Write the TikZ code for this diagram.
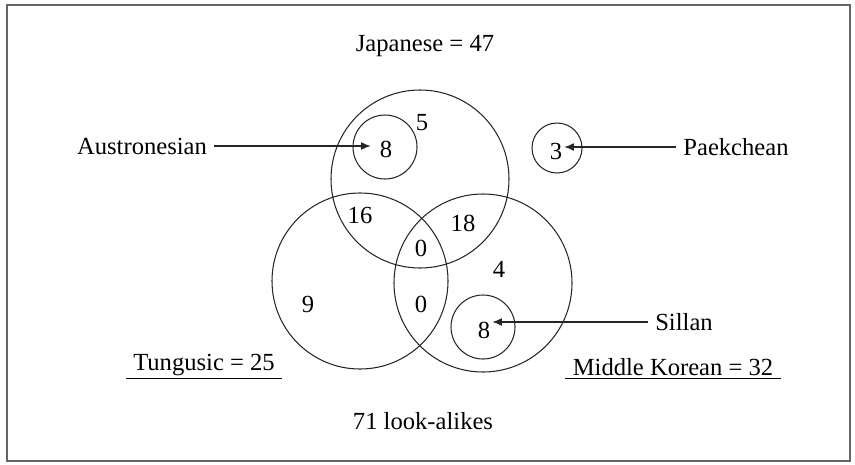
\documentclass[tikz,border=0pt]{standalone}
\usepackage{fontspec}
\setmainfont{Liberation Serif}
\usetikzlibrary{arrows,arrows.meta,positioning}

\begin{document}
\begin{tikzpicture}[
  x=0.02cm, y=-0.02cm,
  ring/.style={
    draw=black!85,
    line width=0.6pt
  },
  txt/.style={
    font=\fontsize{14}{16}\selectfont,
    inner sep=1pt
  },
  title/.style={
    txt,
    inner xsep=4pt,
    inner ysep=1.5pt
  },
  pointer/.style={
    -{Latex[length=5.5pt,width=4.5pt]},
    line width=0.7pt,
    black!85
  }
]
\useasboundingbox (0,0) rectangle (855,464);

% -------- Frame --------
\draw[black!60, line width=0.9pt] (7,5) rectangle (850,461);

% -------- Circles --------
\draw[ring] (420,179) circle (89);   % Japanese
\draw[ring] (360,281) circle (88);   % Tungusic
\draw[ring] (483,283) circle (89);   % Middle Korean
\draw[ring] (385,147) circle (32);   % Austronesian
\draw[ring] (557,148) circle (25);   % Paekchean
\draw[ring] (483,327) circle (32);   % Sillan

% -------- Counts --------
\node[txt] (nAus)  at (386,149) {8};
\node[txt] (nJap)  at (422,123) {5};
\node[txt] (nPae)  at (556,151) {3};
\node[txt] (nJT)   at (360,215) {16};
\node[txt] (nJM)   at (463,223) {18};
\node[txt] (nAll)  at (421,248) {0};
\node[txt] (nTM)   at (421,304) {0};
\node[txt] (nTun)  at (308,304) {9};
\node[txt] (nMK)   at (499,269) {4};
\node[txt] (nSil)  at (484,330) {8};

% -------- Labels --------
\node[title] (jap)  at (425,46)  {Japanese = 47};
\node[title] (aus)  at (142,146) {Austronesian};
\node[title] (pae)  at (736,147) {Paekchean};
\node[title] (sil)  at (684,322) {Sillan};
\node[title] (tun)  at (204,365) {Tungusic = 25};
\node[title] (mk)   at (673,367) {Middle Korean = 32};
\node[title] (look) at (423,421) {71 look-alikes};

% -------- Underlines --------
\draw[line width=0.6pt] (tun.south west) -- (tun.south east);
\draw[line width=0.6pt] (mk.south west) -- (mk.south east);

% -------- Arrows --------
\draw[pointer, shorten >=4pt] (aus.east) -- (aus.east -| nAus.west);
\draw[pointer] (pae.west) -- (pae.west -| nPae.east);
\draw[pointer] (sil.west) -- (sil.west -| nSil.east);

\end{tikzpicture}
\end{document}
